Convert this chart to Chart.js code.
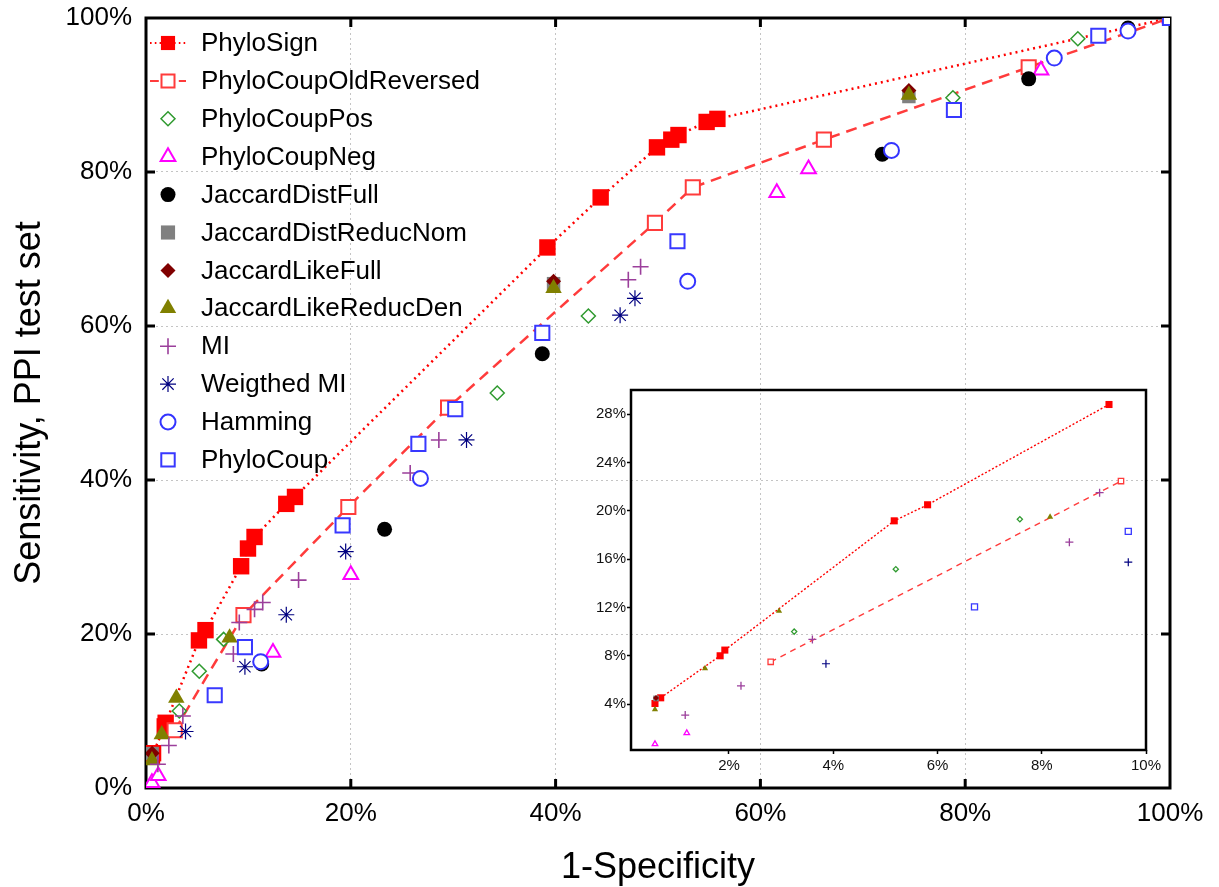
<!DOCTYPE html>
<html>
<head>
<meta charset="utf-8">
<script src="https://cdn.jsdelivr.net/npm/chart.js@4.4.1/dist/chart.umd.min.js"></script>
<style>
  html, body { margin: 0; padding: 0; background: #fff; }
  #wrap { position: relative; width: 1219px; height: 887px; }
  #wrap canvas { position: absolute; left: 0; top: 0; }
</style>
</head>
<body>
<div id="wrap">
  <canvas id="main" width="1219" height="887"></canvas>
  <canvas id="inset" width="1219" height="887"></canvas>
</div>
<script>
// ROC points: x = 1-Specificity (%), y = Sensitivity (%)
const phyloSignX = [0.58, 0.69, 1.83, 1.92, 5.17, 5.81, 9.29, 9.96, 10.6, 13.7, 14.55, 39.2, 44.4, 49.9, 51.3, 52.0, 54.75, 55.8, 100];
const phyloSignY = [4.05, 4.52, 8.0, 8.47, 19.17, 20.5, 28.8, 31.1, 32.6, 36.9, 37.8, 70.2, 76.7, 83.2, 84.2, 84.8, 86.5, 86.9, 100];

const phyloCoupOldRevX = [2.8, 9.52, 19.76, 29.5, 49.7, 53.4, 66.2, 86.2, 100];
const phyloCoupOldRevY = [7.5, 22.46, 36.5, 49.4, 73.4, 78.0, 84.2, 93.6, 100];

const phyloCoupPosX = [3.25, 5.2, 7.58, 34.3, 43.2, 78.8, 91.0];
const phyloCoupPosY = [10.0, 15.17, 19.3, 51.3, 61.3, 89.65, 97.3];

const phyloCoupNegX = [0.58, 1.19, 12.4, 20.0, 61.6, 64.7, 87.4, 100];
const phyloCoupNegY = [0.69, 1.6, 17.6, 27.7, 77.3, 80.4, 93.2, 100];

const jaccardDistFullX = [11.3, 23.3, 38.7, 71.9, 86.2, 95.9];
const jaccardDistFullY = [16.1, 33.6, 56.4, 82.3, 92.1, 98.7];

const jaccardDistReducNomX = [0.6, 39.8, 74.5];
const jaccardDistReducNomY = [4.47, 65.5, 89.8];

const jaccardLikeFullX = [0.6, 39.8, 74.5];
const jaccardLikeFullY = [4.5, 65.8, 90.6];

const jaccardLikeReducDenX = [0.58, 1.54, 2.96, 8.16, 39.8, 74.5];
const jaccardLikeReducDenY = [3.56, 6.95, 11.7, 19.5, 64.9, 90.0];

const miX = [1.16, 2.23, 3.6, 8.53, 9.11, 10.6, 11.4, 14.9, 25.8, 28.6, 47.1, 48.3];
const miY = [3.09, 5.51, 9.35, 17.4, 21.5, 23.2, 24.1, 27.0, 40.9, 45.2, 66.0, 67.7];

const weightedMiX = [3.86, 9.66, 13.7, 19.5, 31.3, 46.3, 47.75];
const weightedMiY = [7.34, 15.75, 22.5, 30.7, 45.2, 61.4, 63.6];

const hammingX = [11.2, 26.8, 52.9, 72.8, 88.7, 95.9];
const hammingY = [16.4, 40.2, 65.8, 82.8, 94.8, 98.3];

const phyloCoupX = [6.71, 9.66, 19.2, 26.6, 30.2, 38.7, 51.9, 78.9, 93.0, 100];
const phyloCoupY = [12.05, 18.3, 34.1, 44.7, 49.2, 59.1, 71.0, 88.05, 97.7, 100];

const seriesNames = ['PhyloSign', 'PhyloCoupOldReversed', 'PhyloCoupPos', 'PhyloCoupNeg',
  'JaccardDistFull', 'JaccardDistReducNom', 'JaccardLikeFull', 'JaccardLikeReducDen',
  'MI', 'Weigthed MI', 'Hamming', 'PhyloCoup'];
const seriesX = [phyloSignX, phyloCoupOldRevX, phyloCoupPosX, phyloCoupNegX, jaccardDistFullX,
  jaccardDistReducNomX, jaccardLikeFullX, jaccardLikeReducDenX, miX, weightedMiX, hammingX, phyloCoupX];
const seriesY = [phyloSignY, phyloCoupOldRevY, phyloCoupPosY, phyloCoupNegY, jaccardDistFullY,
  jaccardDistReducNomY, jaccardLikeFullY, jaccardLikeReducDenY, miY, weightedMiY, hammingY, phyloCoupY];

// Axis ticks and ranges
const mainTicks = [0, 20, 40, 60, 80, 100];
const insetXTicks = [2, 4, 6, 8, 10];
const insetYTicks = [4, 8, 12, 16, 20, 24, 28];
const insetXRange = [0.12, 10];
const insetYRange = [0.2, 30];

const xTitle = '1-Specificity';
const yTitle = 'Sensitivity, PPI test set';

// Marker look per series: r = main radius, ir = inset radius, lr = legend radius
const styles = [
  { shape: 'rect',     color: '#ff0000', fill: '#ff0000', r: 11.6, ir: 5,   lr: 10,  bw: 0,   dash: [2, 4],  idash: [2, 2] },
  { shape: 'rect',     color: '#ff3b3b', fill: '#ffffff', r: 10,   ir: 3.8, lr: 9.2, bw: 2,   dash: [11, 7], idash: [6, 5] },
  { shape: 'rectRot',  color: '#2f9a2f', fill: '#ffffff', r: 7,    ir: 2.6, lr: 7,   bw: 1.5 },
  { shape: 'triangle', color: '#ff00ff', fill: '#ffffff', r: 8.5,  ir: 3.2, lr: 8.5, bw: 2 },
  { shape: 'circle',   color: '#000000', fill: '#000000', r: 7.5,  ir: 3,   lr: 7.5, bw: 0 },
  { shape: 'rect',     color: '#808080', fill: '#808080', r: 9.5,  ir: 4,   lr: 10,  bw: 0 },
  { shape: 'rectRot',  color: '#800000', fill: '#800000', r: 7.5,  ir: 3,   lr: 7.5, bw: 0 },
  { shape: 'triangle', color: '#808000', fill: '#808000', r: 9.5,  ir: 3.6, lr: 9.5, bw: 0 },
  { shape: 'cross',    color: '#9b3f9b', fill: '#9b3f9b', r: 8,    ir: 4,   lr: 8,   bw: 1.6 },
  { shape: 'star',     color: '#000080', fill: '#000080', r: 8,    ir: 4,   lr: 8,   bw: 1.2, ishape: 'cross' },
  { shape: 'circle',   color: '#3434ff', fill: '#ffffff', r: 7.5,  ir: 3,   lr: 7.5, bw: 2 },
  { shape: 'rect',     color: '#3838ff', fill: '#ffffff', r: 10,   ir: 4.3, lr: 9.5, bw: 2 }
];

const FONT = '"Liberation Sans", Arial, Helvetica, sans-serif';

function buildDatasets(inset) {
  const n = seriesNames.length;
  return seriesNames.map((name, i) => {
    const s = styles[i];
    let pts = seriesX[i].map((x, k) => ({ x: x, y: seriesY[i][k] }));
    if (inset) {
      // the zoomed panel only carries the points that fall inside its window
      pts = pts.filter(p => p.x <= insetXRange[1] && p.y <= insetYRange[1]);
    }
    const hasLine = !!s.dash;
    const radius = inset ? s.ir : s.r;
    return {
      label: name,
      data: pts,
      order: n - i,
      showLine: hasLine,
      borderColor: s.color,
      backgroundColor: s.fill,
      borderWidth: inset ? 1.4 : 2.5,
      borderDash: hasLine ? (inset ? s.idash : s.dash) : [],
      pointStyle: inset && s.ishape ? s.ishape : s.shape,
      // the closing corner of the PhyloSign curve carries no marker
      pointRadius: (ctx) => (i === 0 && ctx.raw && ctx.raw.x >= 100) ? 0 : radius,
      pointBorderWidth: inset ? Math.min(s.bw, 1.3) : s.bw,
      pointBorderColor: s.color,
      pointBackgroundColor: s.fill,
      tension: 0
    };
  });
}

// Box frame around the plot area, with short inward tick marks
const framePlugin = {
  id: 'frame',
  beforeDatasetsDraw(chart, args, opts) {
    const { ctx, chartArea: a, scales } = chart;
    ctx.save();
    ctx.strokeStyle = '#000';
    ctx.lineWidth = opts.width;
    ctx.strokeRect(a.left, a.top, a.right - a.left, a.bottom - a.top);
    if (opts.inwardTicks) {
      const len = opts.tickLen;
      ctx.beginPath();
      opts.inwardTicks.forEach(v => {
        const px = scales.x.getPixelForValue(v);
        const py = scales.y.getPixelForValue(v);
        ctx.moveTo(px, a.bottom); ctx.lineTo(px, a.bottom - len);
        ctx.moveTo(px, a.top); ctx.lineTo(px, a.top + len);
        ctx.moveTo(a.left, py); ctx.lineTo(a.left + len, py);
        ctx.moveTo(a.right, py); ctx.lineTo(a.right - len, py);
      });
      ctx.stroke();
    }
    ctx.restore();
  }
};

function drawMarker(ctx, shape, x, y, r, fill, stroke, bw) {
  ctx.beginPath();
  if (shape === 'rect') {
    const h = r * Math.SQRT1_2;
    ctx.rect(x - h, y - h, 2 * h, 2 * h);
  } else if (shape === 'rectRot') {
    ctx.moveTo(x, y - r); ctx.lineTo(x + r, y); ctx.lineTo(x, y + r); ctx.lineTo(x - r, y); ctx.closePath();
  } else if (shape === 'triangle') {
    ctx.moveTo(x, y - r);
    ctx.lineTo(x + r * 0.866, y + r * 0.5);
    ctx.lineTo(x - r * 0.866, y + r * 0.5);
    ctx.closePath();
  } else if (shape === 'circle') {
    ctx.arc(x, y, r, 0, Math.PI * 2);
  } else if (shape === 'cross' || shape === 'star') {
    ctx.moveTo(x - r, y); ctx.lineTo(x + r, y);
    ctx.moveTo(x, y - r); ctx.lineTo(x, y + r);
    if (shape === 'star') {
      const d = r * Math.SQRT1_2;
      ctx.moveTo(x - d, y - d); ctx.lineTo(x + d, y + d);
      ctx.moveTo(x + d, y - d); ctx.lineTo(x - d, y + d);
    }
  }
  if (shape !== 'cross' && shape !== 'star') {
    ctx.fillStyle = fill;
    ctx.fill();
  }
  if (bw > 0) {
    ctx.strokeStyle = stroke;
    ctx.lineWidth = bw;
    ctx.stroke();
  }
}

// Legend stacked in the upper-left corner of the plot
const legendPlugin = {
  id: 'cornerLegend',
  afterDraw(chart) {
    const ctx = chart.ctx;
    ctx.save();
    seriesNames.forEach((name, i) => {
      const s = styles[i];
      const y = 43 + i * 37.9;
      if (s.dash) {
        ctx.strokeStyle = s.color;
        ctx.lineWidth = 2;
        ctx.setLineDash(s.dash.map(d => d * 0.8));
        ctx.beginPath();
        ctx.moveTo(150, y); ctx.lineTo(186, y);
        ctx.stroke();
        ctx.setLineDash([]);
      }
      drawMarker(ctx, s.shape, 168, y, s.lr, s.fill, s.color, s.bw);
      ctx.fillStyle = '#000';
      ctx.font = '26px ' + FONT;
      ctx.textBaseline = 'middle';
      ctx.textAlign = 'left';
      ctx.fillText(name, 201, y + 1);
    });
    ctx.restore();
  }
};

const gridStyle = { color: '#c4c4c4', lineWidth: 1, drawTicks: false };

new Chart(document.getElementById('main'), {
  type: 'scatter',
  data: { datasets: buildDatasets(false) },
  options: {
    responsive: false,
    animation: false,
    events: [],
    layout: { padding: { left: 0, right: 49, top: 18, bottom: 0 } },
    plugins: {
      legend: { display: false },
      tooltip: { enabled: false },
      frame: { width: 3, inwardTicks: [20, 40, 60, 80], tickLen: 9 }
    },
    scales: {
      x: {
        type: 'linear', min: 0, max: 100,
        afterBuildTicks: (s) => { s.ticks = mainTicks.map(v => ({ value: v })); },
        afterFit: (s) => { s.height = 99; s.paddingLeft = 0; s.paddingRight = 0; },
        grid: gridStyle,
        border: { display: false, dash: [2, 3] },
        ticks: { padding: 10, color: '#000', font: { family: FONT, size: 26 }, maxRotation: 0, autoSkip: false,
                 callback: (v) => v + '%' },
        title: { display: true, text: xTitle, color: '#000', font: { family: FONT, size: 36, lineHeight: 1 },
                 padding: { top: 0, bottom: 1 } }
      },
      y: {
        type: 'linear', min: 0, max: 100,
        afterBuildTicks: (s) => { s.ticks = mainTicks.map(v => ({ value: v })); },
        afterFit: (s) => { s.width = 146; s.paddingTop = 0; s.paddingBottom = 0; },
        grid: gridStyle,
        border: { display: false, dash: [2, 3] },
        ticks: { padding: 14, color: '#000', font: { family: FONT, size: 26 }, autoSkip: false,
                 callback: (v) => v + '%' },
        title: { display: true, text: yTitle, color: '#000', font: { family: FONT, size: 36, lineHeight: 1 },
                 padding: { top: 12, bottom: 0 } }
      }
    }
  },
  plugins: [framePlugin, legendPlugin]
});

// Zoomed view of the low false-positive corner
new Chart(document.getElementById('inset'), {
  type: 'scatter',
  data: { datasets: buildDatasets(true) },
  options: {
    responsive: false,
    animation: false,
    events: [],
    layout: { padding: { left: 0, right: 73, top: 390, bottom: 0 } },
    plugins: {
      legend: { display: false },
      tooltip: { enabled: false },
      frame: { width: 2.5 }
    },
    scales: {
      x: {
        type: 'linear', min: insetXRange[0], max: insetXRange[1],
        afterBuildTicks: (s) => { s.ticks = insetXTicks.map(v => ({ value: v })); },
        afterFit: (s) => { s.height = 137; s.paddingLeft = 0; s.paddingRight = 0; },
        grid: { drawOnChartArea: false, drawTicks: true, tickLength: 4, tickColor: '#000', tickWidth: 1.5 },
        border: { display: false },
        ticks: { padding: 3, color: '#111', font: { family: FONT, size: 15 }, maxRotation: 0, autoSkip: false,
                 callback: (v) => v + '%' }
      },
      y: {
        type: 'linear', min: insetYRange[0], max: insetYRange[1],
        afterBuildTicks: (s) => { s.ticks = insetYTicks.map(v => ({ value: v })); },
        afterFit: (s) => { s.width = 631; s.paddingTop = 0; s.paddingBottom = 0; },
        grid: { drawOnChartArea: false, drawTicks: true, tickLength: 4, tickColor: '#000', tickWidth: 1.5 },
        border: { display: false },
        ticks: { padding: 1, color: '#111', font: { family: FONT, size: 15 }, autoSkip: false,
                 callback: (v) => v + '%' }
      }
    }
  },
  plugins: [framePlugin]
});
</script>
</body>
</html>
